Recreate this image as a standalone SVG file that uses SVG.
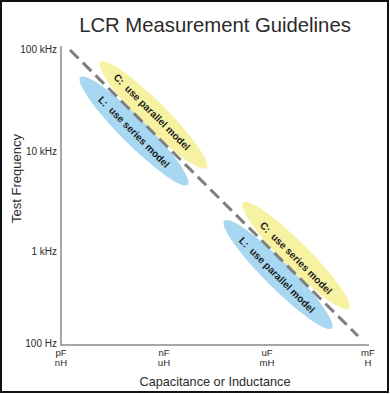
<svg xmlns="http://www.w3.org/2000/svg" width="390" height="394" viewBox="0 0 390 394">
<style>
  text { font-family: "Liberation Sans", Arial, sans-serif; fill: #2a2a2a; }
  .tick { font-size: 10px; }
  .xt { font-size: 9.6px; }
  .lab { font-size: 10px; font-weight: bold; fill: #1a1a1a; white-space: pre; }
  .axis { stroke: #8a8a8a; stroke-width: 1.5; fill: none; }
  .yel { fill: #f6f2a2; }
  .blu { fill: #a7d7f1; }
</style>
<rect x="1" y="1" width="387" height="391" fill="#ffffff" stroke="#111" stroke-width="2"/>
<text x="215" y="31.5" text-anchor="middle" font-size="20.3">LCR Measurement Guidelines</text>

<g id="axes">
  <path class="axis" d="M61,46 V345 H369"/>
  <text class="tick" x="57" y="53" text-anchor="end">100 kHz</text>
  <text class="tick" x="57" y="154.5" text-anchor="end">10 kHz</text>
  <text class="tick" x="57" y="254.5" text-anchor="end">1 kHz</text>
  <text class="tick" x="57" y="346.5" text-anchor="end">100 Hz</text>
  <text class="xt" x="61" y="356" text-anchor="middle">pF</text>
  <text class="xt" x="61" y="366" text-anchor="middle">nH</text>
  <text class="xt" x="164" y="356" text-anchor="middle">nF</text>
  <text class="xt" x="164" y="366" text-anchor="middle">uH</text>
  <text class="xt" x="267" y="356" text-anchor="middle">uF</text>
  <text class="xt" x="267" y="366" text-anchor="middle">mH</text>
  <text class="xt" x="368" y="356" text-anchor="middle">mF</text>
  <text class="xt" x="368" y="366" text-anchor="middle">H</text>
  <text x="215" y="385.5" text-anchor="middle" font-size="12.7">Capacitance or Inductance</text>
  <text x="20.5" y="178.5" text-anchor="middle" font-size="13" transform="rotate(-90 20.5 178.5)">Test Frequency</text>
</g>

<g id="c-parallel">
  <ellipse class="yel" cx="153.5" cy="115" rx="75" ry="13" transform="rotate(45 153.5 115)"/>
  <text class="lab" x="152" y="115.5" text-anchor="middle" transform="rotate(45 152 112)">C:  use parallel model</text>
</g>
<g id="l-series">
  <ellipse class="blu" cx="134" cy="131" rx="76" ry="13" transform="rotate(45 134 131)"/>
  <text class="lab" x="134" y="135.5" text-anchor="middle" transform="rotate(45 134 132)">L:  use series model</text>
</g>
<g id="c-series">
  <ellipse class="yel" cx="296" cy="255.5" rx="75" ry="13" transform="rotate(45 296 255.5)"/>
  <text class="lab" x="296" y="261.5" text-anchor="middle" transform="rotate(45 296 258)">C:  use series model</text>
</g>
<g id="l-parallel">
  <ellipse class="blu" cx="278" cy="274.5" rx="76" ry="13" transform="rotate(45 278 274.5)"/>
  <text class="lab" x="277" y="278.5" text-anchor="middle" transform="rotate(45 277 275)">L:  use parallel model</text>
</g>

<g id="connectors">
  <line x1="70" y1="50" x2="358" y2="336" stroke="#7f7f7f" stroke-width="3" stroke-dasharray="12 6"/>
</g>
</svg>
